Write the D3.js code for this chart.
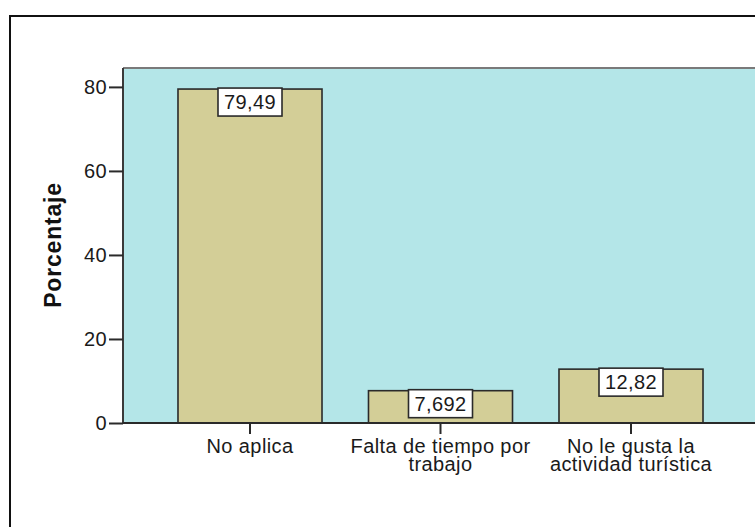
<!DOCTYPE html>
<html>
<head>
<meta charset="utf-8">
<script src="https://cdn.jsdelivr.net/npm/d3@7"></script>
<style>
  html, body { margin: 0; padding: 0; background: #ffffff; }
  svg { display: block; }
  text { font-family: "Liberation Sans", Arial, sans-serif; }
</style>
</head>
<body>
<svg id="chart" width="755" height="527"></svg>
<script>
// ---- data ----
const categories = ["No aplica", "Falta de tiempo por trabajo", "No le gusta la actividad turística"];
const categoryLines = [["No aplica"], ["Falta de tiempo por", "trabajo"], ["No le gusta la", "actividad turística"]];
const values = [79.49, 7.692, 12.82];
const valueLabels = ["79,49", "7,692", "12,82"];
const yTicks = [0, 20, 40, 60, 80];
const yMax = 84.5;
const yTitle = "Porcentaje";

// ---- layout ----
const svg = d3.select("#chart");
const plot = { left: 123, top: 68, right: 770, bottom: 423 };
const labelFont = "20px";
const labelSpacing = "0.4px";

const x = d3.scaleBand()
  .domain(categories)
  .range([154.75, 726.25])
  .paddingInner(0.244)
  .paddingOuter(0.122);

const y = d3.scaleLinear().domain([0, yMax]).range([plot.bottom, plot.top]);

// outer frame
svg.append("rect")
  .attr("x", 10).attr("y", 16)
  .attr("width", 780).attr("height", 540)
  .attr("fill", "#ffffff")
  .attr("stroke", "#111").attr("stroke-width", 2);

// plot background
svg.append("rect")
  .attr("x", plot.left).attr("y", plot.top)
  .attr("width", plot.right - plot.left).attr("height", plot.bottom - plot.top)
  .attr("fill", "#b4e6e8");

// plot border top & left
svg.append("line")
  .attr("x1", plot.left).attr("x2", plot.right)
  .attr("y1", plot.top).attr("y2", plot.top)
  .attr("stroke", "#7a7a7a").attr("stroke-width", 2);
svg.append("line")
  .attr("x1", plot.left).attr("x2", plot.left)
  .attr("y1", plot.top).attr("y2", plot.bottom)
  .attr("stroke", "#3a3a3a").attr("stroke-width", 2);

// bars
svg.append("g").selectAll("rect")
  .data(values)
  .join("rect")
  .attr("x", (d, i) => x(categories[i]))
  .attr("y", d => y(d))
  .attr("width", x.bandwidth())
  .attr("height", d => y(0) - y(d))
  .attr("fill", "#d3ce97")
  .attr("stroke", "#2a2a2a")
  .attr("stroke-width", 1.6);

// x axis baseline
svg.append("line")
  .attr("x1", plot.left).attr("x2", plot.right)
  .attr("y1", plot.bottom).attr("y2", plot.bottom)
  .attr("stroke", "#2a2a2a").attr("stroke-width", 2);

// y axis
const yAxis = svg.append("g")
  .attr("transform", `translate(${plot.left},0)`)
  .call(d3.axisLeft(y).tickValues(yTicks).tickSize(14).tickPadding(2).tickFormat(d3.format("d")));
yAxis.select(".domain").remove();
yAxis.selectAll(".tick line").attr("stroke", "#2a2a2a").attr("stroke-width", 2);
yAxis.selectAll(".tick text")
  .attr("fill", "#1a1a1a")
  .style("font-size", labelFont)
  .style("letter-spacing", labelSpacing);

// x axis ticks
const xAxis = svg.append("g")
  .attr("transform", `translate(0,${plot.bottom})`)
  .call(d3.axisBottom(x).tickSize(11).tickFormat(""));
xAxis.select(".domain").remove();
xAxis.selectAll(".tick line").attr("stroke", "#2a2a2a").attr("stroke-width", 2);

// x labels (multi-line)
const xl = svg.append("g").selectAll("text")
  .data(categories)
  .join("text")
  .attr("text-anchor", "middle")
  .attr("fill", "#1a1a1a")
  .style("font-size", labelFont)
  .style("letter-spacing", labelSpacing)
  .attr("transform", d => `translate(${x(d) + x.bandwidth() / 2},453)`);
xl.each(function (d, i) {
  d3.select(this).selectAll("tspan")
    .data(categoryLines[i])
    .join("tspan")
    .attr("x", 0)
    .attr("y", (l, j) => j * 17.5)
    .text(l => l);
});

// value labels
const vl = svg.append("g").selectAll("g")
  .data(values)
  .join("g")
  .attr("transform", (d, i) => `translate(${x(categories[i]) + x.bandwidth() / 2},${y(d) - 1})`);
vl.append("rect")
  .attr("x", -32).attr("y", 0)
  .attr("width", 64).attr("height", 28)
  .attr("fill", "#ffffff")
  .attr("stroke", "#2a2a2a").attr("stroke-width", 1.6);
vl.append("text")
  .attr("text-anchor", "middle")
  .attr("y", 21)
  .attr("fill", "#1a1a1a")
  .style("font-size", labelFont)
  .style("letter-spacing", labelSpacing)
  .text((d, i) => valueLabels[i]);

// y title
svg.append("text")
  .attr("transform", "translate(61,245) rotate(-90)")
  .attr("text-anchor", "middle")
  .attr("fill", "#111")
  .style("font-size", "23px")
  .style("font-weight", "bold")
  .style("letter-spacing", "0.8px")
  .text(yTitle);
</script>
</body>
</html>
